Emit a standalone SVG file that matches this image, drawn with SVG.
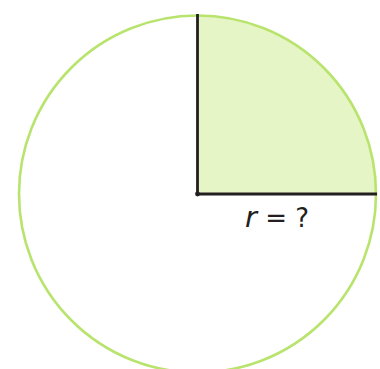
<svg xmlns="http://www.w3.org/2000/svg" width="380" height="369" viewBox="0 0 380 369">
<style>
.circ{fill:none;stroke:#b8e46e;stroke-width:2.6}
.sector{fill:#e6f5c6;stroke:none}
.ln{stroke:#231f20;stroke-width:2.8;fill:none}
.lbl{font-family:"DejaVu Sans",Verdana,sans-serif;font-size:26px;fill:#231f20}
</style>
<rect width="380" height="369" fill="#ffffff"/>
<g id="sector"><path class="sector" d="M197.5,194 L197.5,15.5 A178.5,178.5 0 0 1 376,194 Z"/></g>
<g id="circle"><circle class="circ" cx="197.5" cy="194" r="178.5"/></g>
<g id="connectors">
<line class="ln" x1="197.5" y1="14" x2="197.5" y2="194"/>
<line class="ln" x1="197.5" y1="194" x2="377" y2="194"/>
</g>
<g id="center"><circle cx="197.5" cy="194" r="2.4" fill="#231f20"/></g>
<g id="label"><text class="lbl" x="277" y="227" text-anchor="middle"><tspan font-style="italic" font-size="29px">r</tspan> = ?</text></g>
</svg>
